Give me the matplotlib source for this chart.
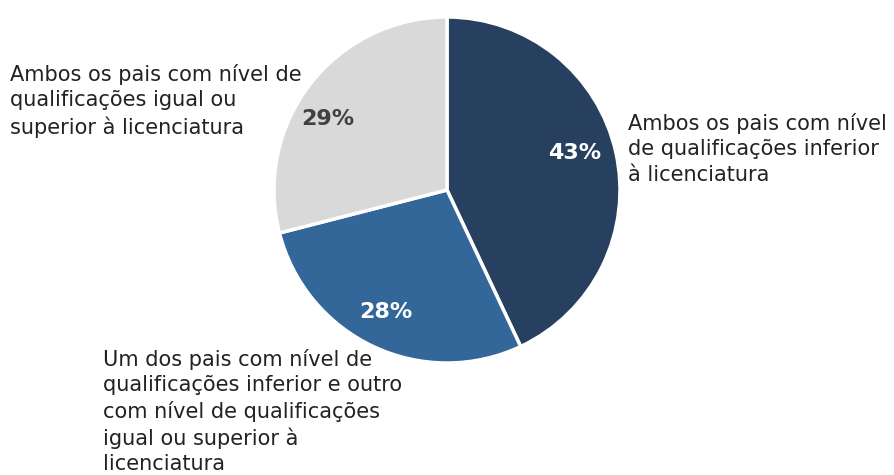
import matplotlib.pyplot as plt

# slices, clockwise from 12 o'clock
shares = [43, 28, 29]
labels = [
    "Ambos os pais com nível\nde qualificações inferior\nà licenciatura",
    "Um dos pais com nível de\nqualificações inferior e outro\ncom nível de qualificações\nigual ou superior à\nlicenciatura",
    "Ambos os pais com nível de\nqualificações igual ou\nsuperior à licenciatura",
]
colors = ["#274060", "#336699", "#D9D9D9"]
pct_colors = ["white", "white", "#404040"]

plt.rcParams['font.family'] = ['DejaVu Sans']

H = 475
fig = plt.figure(figsize=(8.94, 4.75), dpi=100)
ax = fig.add_axes([0, 0, 1, 1])
ax.set_xlim(0, 894)
ax.set_ylim(0, H)
ax.set_aspect('equal')

wedges, texts, autotexts = ax.pie(
    shares, colors=colors, startangle=90, counterclock=False,
    center=(447, H - 190), radius=173, frame=True,
    autopct='%d%%', pctdistance=0.78,
    wedgeprops=dict(edgecolor='white', linewidth=2.5),
)
pct_pos = [(575, 153), (386, 312), (328, 119)]
for t, c, (px, py) in zip(autotexts, pct_colors, pct_pos):
    t.set_color(c)
    t.set_fontsize(16)
    t.set_fontweight('bold')
    t.set_position((px, H - py))

ax.text(628, H - 113, labels[0], fontsize=15, color='#222222',
        ha='left', va='top', linespacing=1.33)
ax.text(103, H - 349, labels[1], fontsize=15, color='#222222',
        ha='left', va='top', linespacing=1.33)
ax.text(10, H - 64, labels[2], fontsize=15, color='#222222',
        ha='left', va='top', linespacing=1.33)

ax.axis('off')
fig.savefig("out.png", dpi=100)
